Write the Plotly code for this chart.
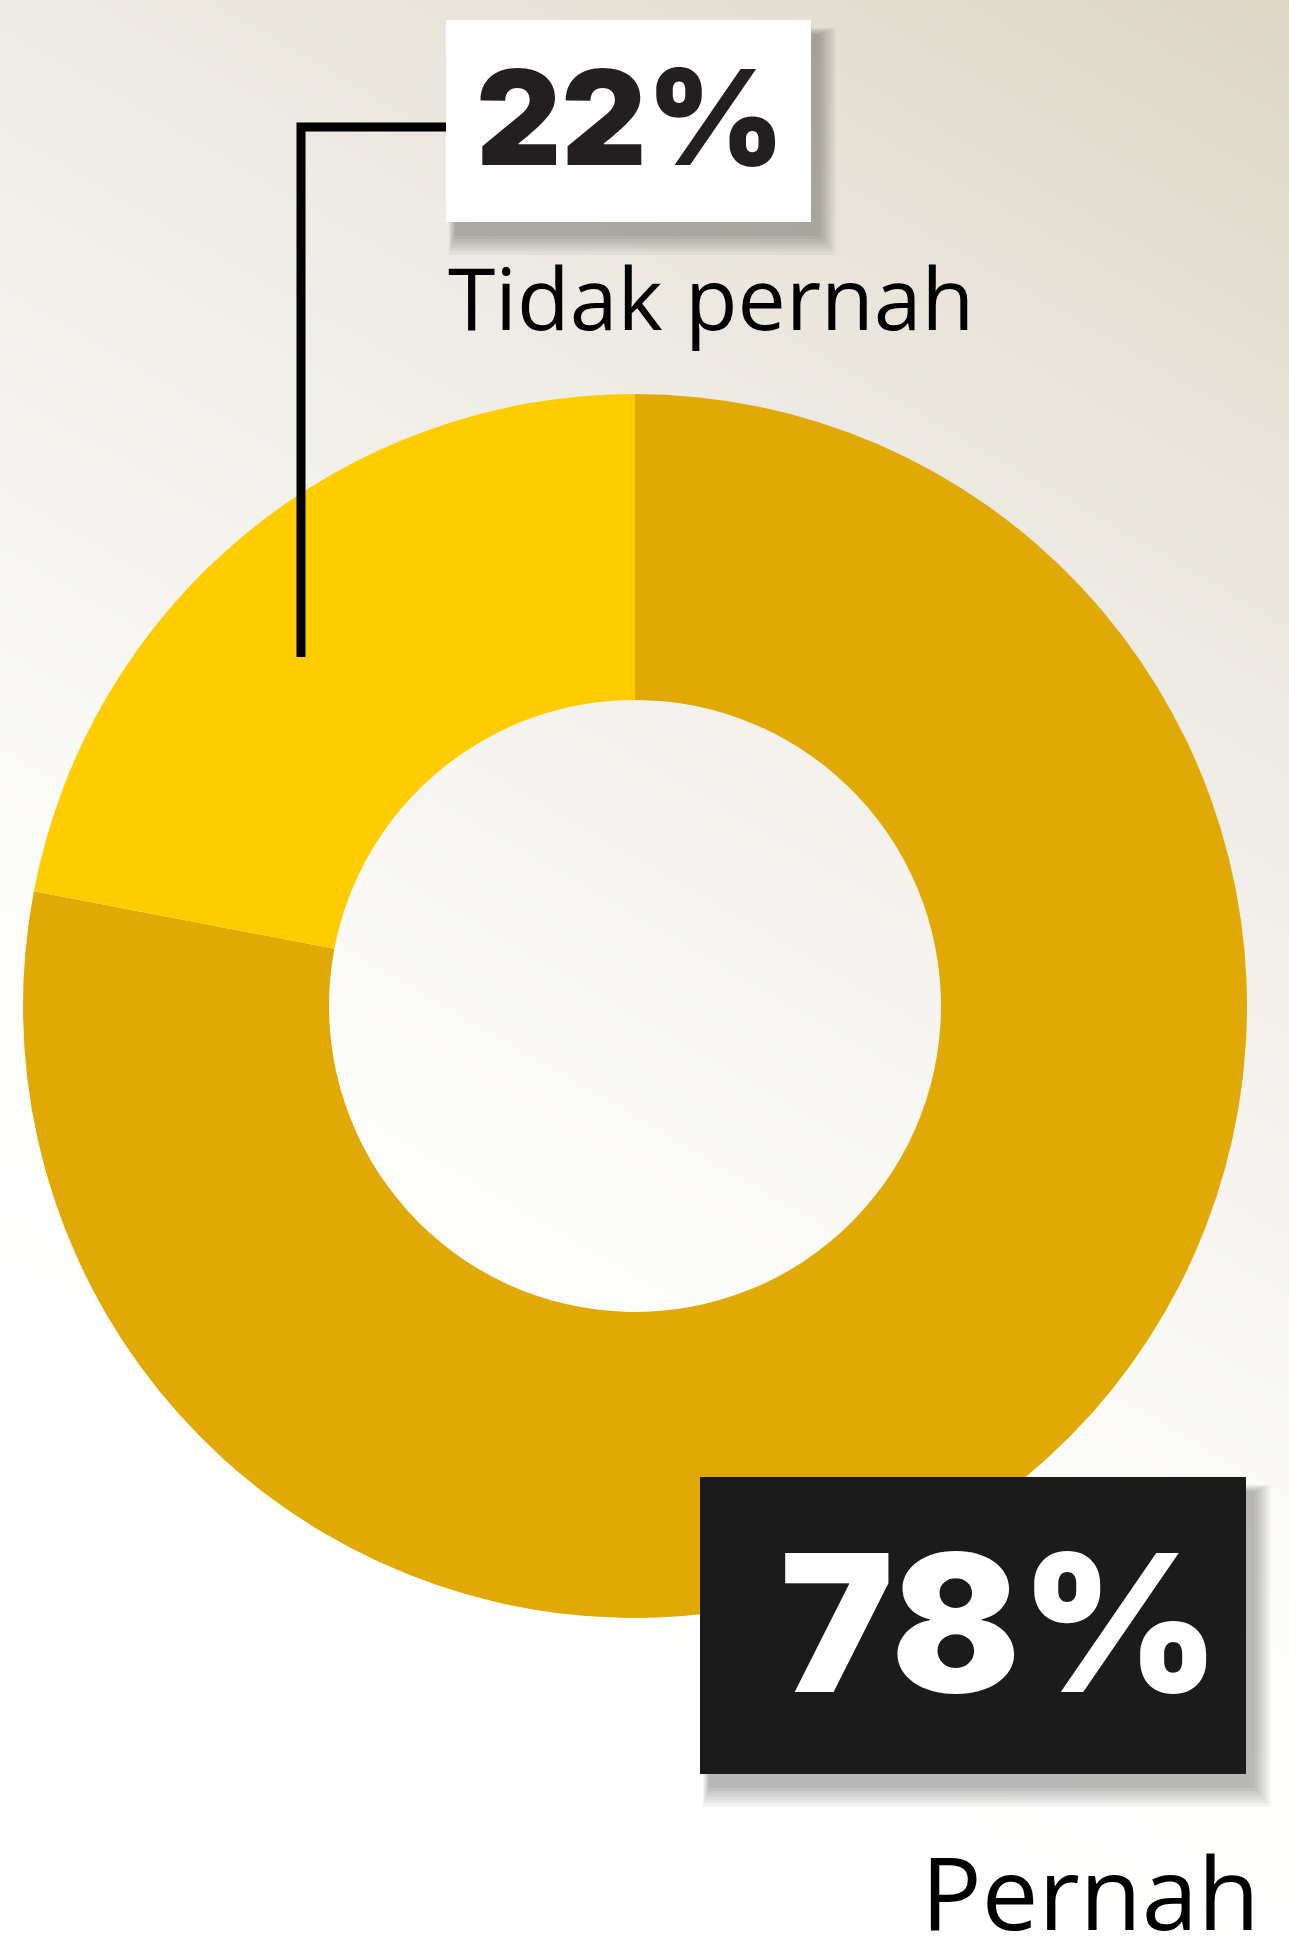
import numpy as np
import plotly.graph_objects as go

# ---- data ----
labels = ["Pernah", "Tidak pernah"]
values = [78, 22]
pct_text = {"Tidak pernah": "22%", "Pernah": "78%"}
slice_colors = ["#E0A906", "#FFCC00"]

W, H = 1289, 1938

fig = go.Figure()

# background gradient (styling only)
gx = np.linspace(-40, W + 40, 30)
gy = np.linspace(-40, H + 40, 40)
GX, GY = np.meshgrid(gx, gy)
S = GY - 0.58 * GX
fig.add_trace(go.Heatmap(
    x=gx, y=gy, z=S, zmin=-760, zmax=1300, zsmooth="best",
    colorscale=[[0.0, "#ddd6c3"], [0.37, "#eeebe5"], [0.62, "#f6f5f1"],
    [0.82, "#fdfdfb"], [1.0, "#ffffff"]],
    showscale=False, hoverinfo="skip"))

# donut
cx, cy, R = 635, 1006, 612
fig.add_trace(go.Pie(
    labels=labels, values=values, hole=0.5, sort=False,
    direction="clockwise", rotation=0,
    marker=dict(colors=slice_colors, line=dict(width=0)),
    textinfo="none", hoverinfo="skip", showlegend=False,
    domain=dict(x=[(cx - R) / W, (cx + R) / W],
                y=[1 - (cy + R) / H, 1 - (cy - R) / H])))

shapes = []

def shadow(x0, y0, x1, y1, dx=9, dy=14):
    for i in range(7):
        e = i * 2.6
        shapes.append(dict(type="rect", layer="above", xref="x", yref="y",
                           x0=x0 + dx - e * 0.4, x1=x1 + dx + e, y0=y0 + dy - e * 0.4, y1=y1 + dy + e * 1.2,
                           fillcolor="rgba(0,0,0,0.042)", line=dict(width=0)))

# leader line
shapes.append(dict(type="path", layer="above", xref="x", yref="y",
                   path="M 446 127 L 301 127 L 301 657",
                   line=dict(color="#000000", width=9)))

# 22% box
shadow(446, 20, 811, 222)
shapes.append(dict(type="rect", layer="above", xref="x", yref="y",
                   x0=446, x1=811, y0=20, y1=222, fillcolor="#ffffff", line=dict(width=0)))
# 78% box
shadow(700, 1477, 1246, 1774)
shapes.append(dict(type="rect", layer="above", xref="x", yref="y",
                   x0=700, x1=1246, y0=1477, y1=1774, fillcolor="#1b1b1b", line=dict(width=0)))

annotations = [
    dict(text=pct_text["Tidak pernah"], x=630, y=117, xref="x", yref="y", showarrow=False,
         xanchor="center", yanchor="middle",
         font=dict(family="Inter", size=132, color="#231f20", weight=900)),
    dict(text="Tidak pernah", x=446, y=296, xref="x", yref="y", showarrow=False,
         xanchor="left", yanchor="middle",
         font=dict(family="Open Sans", size=86, color="#000000")),
    dict(text=pct_text["Pernah"], x=1000, y=1622, xref="x", yref="y", showarrow=False,
         xanchor="center", yanchor="middle",
         font=dict(family="Inter", size=191, color="#ffffff", weight=900)),
    dict(text="Pernah", x=1262, y=1891, xref="x", yref="y", showarrow=False,
         xanchor="right", yanchor="middle",
         font=dict(family="Open Sans", size=101, color="#000000")),
]

fig.update_layout(
    width=W, height=H, margin=dict(l=0, r=0, t=0, b=0),
    paper_bgcolor="#ffffff", plot_bgcolor="#ffffff",
    xaxis=dict(range=[0, W], visible=False, fixedrange=True, domain=[0, 1]),
    yaxis=dict(range=[H, 0], visible=False, fixedrange=True, domain=[0, 1]),
    shapes=shapes, annotations=annotations, showlegend=False,
)

fig.write_html("out.html", config={"displayModeBar": False})
